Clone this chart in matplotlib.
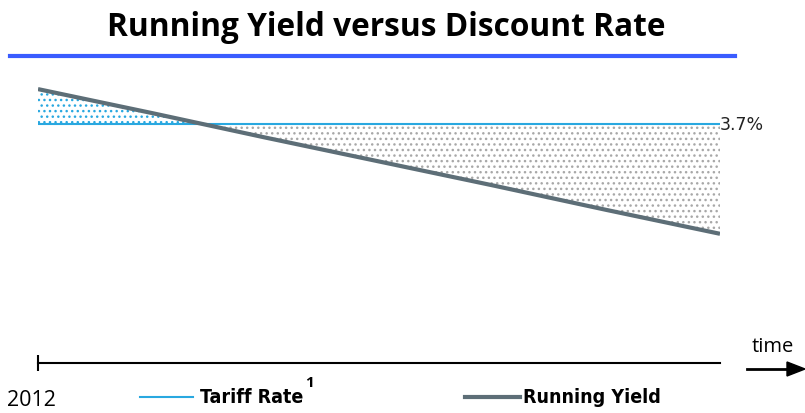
import matplotlib.pyplot as plt

# running yield against the flat tariff rate, in percent
years = [2012, 2017, 2022, 2027, 2032, 2037, 2042]
running_yield = [4.24, 3.87, 3.49, 3.12, 2.75, 2.37, 2.00]
tariff_rate = [3.7, 3.7, 3.7, 3.7, 3.7, 3.7, 3.7]
tariff_label = "3.7%"
start_label = "2012"

BLUE = "#29a8e0"
GREY = "#5d6e77"

plt.rcParams["hatch.linewidth"] = 1.0

fig = plt.figure(figsize=(8.05, 4.14), dpi=100)
ax = fig.add_axes([38 / 805, 50 / 414, 682 / 805, 304 / 414])

ax.plot(years, tariff_rate, color=BLUE, lw=1.5, zorder=3)
ax.plot(years, running_yield, color=GREY, lw=3, zorder=4, solid_capstyle="butt")

# stippled gap between the two lines
ax.fill_between(years, running_yield, tariff_rate, interpolate=True,
                where=[r >= t for r, t in zip(running_yield, tariff_rate)],
                facecolor="none", edgecolor=BLUE, hatch="...", lw=0, zorder=2)
ax.fill_between(years, running_yield, tariff_rate, interpolate=True,
                where=[r <= t for r, t in zip(running_yield, tariff_rate)],
                facecolor="none", edgecolor="#a8a8a8", hatch="...", lw=0, zorder=2)

ax.text(years[-1], tariff_rate[-1], tariff_label, fontsize=12.5, va="center",
        ha="left", color="#222222")

ax.set_xlim(years[0], years[-1])
ax.set_ylim(0, 4.706)
for s in ["top", "right", "left"]:
    ax.spines[s].set_visible(False)
ax.spines["bottom"].set_linewidth(1.5)
ax.set_xticks([])
ax.set_yticks([])
ax.plot([years[0]], [0], marker="|", markersize=12, mew=1.5, color="black",
        clip_on=False)

fig.text(31 / 805, 1 - 401 / 414, start_label, fontsize=15.5, family="Open Sans",
         ha="center", va="center")

# title and rule
fig.text(386 / 805, 1 - 27 / 414, "Running Yield versus Discount Rate",
         fontsize=22.8, fontweight="bold", family="Open Sans", ha="center", va="center")
fig.add_artist(plt.Line2D([10 / 805, 735 / 805], [1 - 57 / 414, 1 - 57 / 414],
                          color="#3a5cff", lw=3))

# time arrow
fig.text(773 / 805, 1 - 347 / 414, "time", fontsize=14.5, family="Open Sans",
         ha="center", va="center")
fig.add_artist(plt.Line2D([747 / 805, 790 / 805], [1 - 370 / 414] * 2,
                          color="black", lw=2))
fig.patches.append(plt.Polygon([[787 / 805, 1 - 363 / 414], [805 / 805, 1 - 370 / 414],
                                [787 / 805, 1 - 377 / 414]], closed=True,
                               color="black", transform=fig.transFigure))

# legend
fig.add_artist(plt.Line2D([140 / 805, 193 / 805], [1 - 398 / 414] * 2, color=BLUE, lw=1.5))
fig.text(200 / 805, 1 - 398 / 414, "Tariff Rate", fontsize=14, fontweight="bold",
         family="DejaVu Sans", stretch="condensed", ha="left", va="center")
fig.text(309 / 805, 1 - 383 / 414, "1", fontsize=11, fontweight="bold",
         family="Open Sans", ha="center", va="center")
fig.add_artist(plt.Line2D([465 / 805, 520 / 805], [1 - 398 / 414] * 2, color=GREY, lw=3))
fig.text(523 / 805, 1 - 398 / 414, "Running Yield", fontsize=14, fontweight="bold",
         family="DejaVu Sans", stretch="condensed", ha="left", va="center")

fig.savefig("out.png", dpi=100)
